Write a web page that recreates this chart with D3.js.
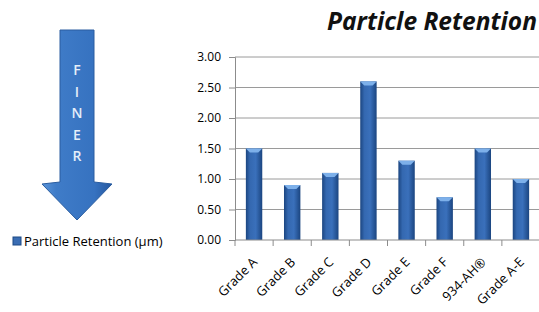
<!DOCTYPE html>
<html>
<head>
<meta charset="utf-8">
<script src="https://cdn.jsdelivr.net/npm/d3@7"></script>
<style>
  body { margin: 0; background: #fff; }
  svg { display: block; }
</style>
</head>
<body>
<div id="chart"></div>
<script>
var categories = ["Grade A", "Grade B", "Grade C", "Grade D", "Grade E", "Grade F", "934-AH®", "Grade A-E"];
var retention = [1.50, 0.90, 1.10, 2.60, 1.30, 0.70, 1.50, 1.00];
var yTicks = [0, 0.5, 1, 1.5, 2, 2.5, 3];
var arrowLetters = ["F", "I", "N", "E", "R"];
var seriesName = "Particle Retention (\u00b5m)";
var chartTitle = "Particle Retention";

function init() {
    var w = 539;
    var h = 312;
    var left = 235, right = 540, top = 57, bottom = 240;

    var svg = d3.select("#chart")
        .append("svg")
        .attr("width", w)
        .attr("height", h);

    var defs = svg.append("defs");

    // bar gradient, darker at edges
    var bg = defs.append("linearGradient").attr("id", "barGrad")
        .attr("x1", "0%").attr("x2", "100%").attr("y1", "0%").attr("y2", "0%");
    bg.append("stop").attr("offset", "0%").attr("stop-color", "#1b4580");
    bg.append("stop").attr("offset", "25%").attr("stop-color", "#3468b0");
    bg.append("stop").attr("offset", "60%").attr("stop-color", "#3a70bb");
    bg.append("stop").attr("offset", "100%").attr("stop-color", "#1b4580");

    var ag = defs.append("linearGradient").attr("id", "arrowGrad")
        .attr("x1", "0%").attr("x2", "100%").attr("y1", "0%").attr("y2", "0%");
    ag.append("stop").attr("offset", "0%").attr("stop-color", "#5b95d9");
    ag.append("stop").attr("offset", "20%").attr("stop-color", "#3f7cc8");
    ag.append("stop").attr("offset", "75%").attr("stop-color", "#3672c0");
    ag.append("stop").attr("offset", "100%").attr("stop-color", "#2558a0");

    var x = d3.scaleBand()
        .domain(categories)
        .range([left, right]);

    var y = d3.scaleLinear()
        .domain([0, 3])
        .range([bottom, top]);

    // gridlines
    svg.selectAll(".grid")
        .data(yTicks.slice(1))
        .enter()
        .append("line")
        .attr("x1", left)
        .attr("x2", w)
        .attr("y1", function(d) { return y(d); })
        .attr("y2", function(d) { return y(d); })
        .attr("stroke", "#9a9a9a")
        .attr("stroke-width", 1);

    // y axis
    var yAxis = d3.axisLeft(y)
        .tickValues(yTicks)
        .tickFormat(d3.format(".2f"))
        .tickSize(6)
        .tickPadding(8);
    var gy = svg.append("g")
        .attr("transform", "translate(" + left + ",0)")
        .call(yAxis);
    gy.select(".domain").attr("stroke", "#8c8c8c");
    gy.selectAll(".tick line").attr("stroke", "#8c8c8c");
    gy.selectAll("text")
        .attr("font-family", "Open Sans, sans-serif")
        .attr("font-size", "12px")
        .attr("fill", "#000");

    // bars
    var bw = x.bandwidth() * 0.43;
    svg.selectAll(".bar")
        .data(retention)
        .enter()
        .append("rect")
        .attr("class", "bar")
        .attr("x", function(d, i) { return x(categories[i]) + (x.bandwidth() - bw) / 2; })
        .attr("y", function(d) { return y(d); })
        .attr("width", bw)
        .attr("height", function(d) { return bottom - y(d); })
        .attr("fill", "url(#barGrad)");

    // top bevel highlight
    svg.selectAll(".cap")
        .data(retention)
        .enter()
        .append("path")
        .attr("d", function(d, i) {
            var x0 = x(categories[i]) + (x.bandwidth() - bw) / 2;
            var y0 = y(d);
            return "M" + x0 + "," + y0 + "L" + (x0 + bw) + "," + y0 +
                "L" + (x0 + bw - 4) + "," + (y0 + 4) + "L" + (x0 + 4) + "," + (y0 + 4) + "Z";
        })
        .attr("fill", "#7db0ea");

    // x axis
    var gx = svg.append("g")
        .attr("transform", "translate(0," + bottom + ")");
    gx.append("line")
        .attr("x1", left).attr("x2", w)
        .attr("stroke", "#8c8c8c");
    gx.selectAll(".xt")
        .data(categories)
        .enter()
        .append("line")
        .attr("x1", function(d) { return x(d); })
        .attr("x2", function(d) { return x(d); })
        .attr("y1", 0).attr("y2", 6)
        .attr("stroke", "#8c8c8c");
    gx.selectAll(".xl")
        .data(categories)
        .enter()
        .append("text")
        .text(function(d) { return d; })
        .attr("transform", function(d) {
            return "translate(" + (x(d) + x.bandwidth() / 2 + 4) + ",23) rotate(-45)";
        })
        .attr("text-anchor", "end")
        .attr("font-family", "Open Sans, sans-serif")
        .attr("font-size", "13px")
        .attr("fill", "#000");

    // title, sized to the reference width
    var title = svg.append("text")
        .text(chartTitle)
        .attr("x", 537)
        .attr("y", 30)
        .attr("text-anchor", "end")
        .attr("font-family", "Open Sans, sans-serif")
        .attr("font-weight", "bold")
        .attr("font-style", "italic")
        .attr("font-size", "20px")
        .attr("fill", "#111");
    var tw = title.node().getComputedTextLength();
    title.attr("font-size", (20 * 210 / tw) + "px");

    // legend
    svg.append("rect")
        .attr("x", 13).attr("y", 237)
        .attr("width", 8).attr("height", 8)
        .attr("fill", "#3a6db3")
        .attr("stroke", "#1d4a86");
    svg.append("text")
        .text(seriesName)
        .attr("x", 24)
        .attr("y", 246)
        .attr("font-family", "Open Sans, sans-serif")
        .attr("font-size", "13px")
        .attr("fill", "#000");

    // FINER arrow
    var ax = 77;
    var arrow = d3.path();
    arrow.moveTo(60, 30);
    arrow.lineTo(94, 30);
    arrow.lineTo(94, 182);
    arrow.lineTo(112, 184);
    arrow.lineTo(ax, 220);
    arrow.lineTo(42, 184);
    arrow.lineTo(60, 182);
    arrow.closePath();
    svg.append("path")
        .attr("d", arrow.toString())
        .attr("fill", "url(#arrowGrad)")
        .attr("stroke", "#2a5da0")
        .attr("stroke-width", 1);

    svg.selectAll(".letter")
        .data(arrowLetters)
        .enter()
        .append("text")
        .text(function(d) { return d; })
        .attr("x", ax)
        .attr("y", function(d, i) { return 75 + i * 21.5; })
        .attr("text-anchor", "middle")
        .attr("font-family", "Open Sans, sans-serif")
        .attr("font-weight", "600")
        .attr("font-size", "14px")
        .attr("fill", "#e4eef9");
}

window.onload = init;
</script>
</body>
</html>
